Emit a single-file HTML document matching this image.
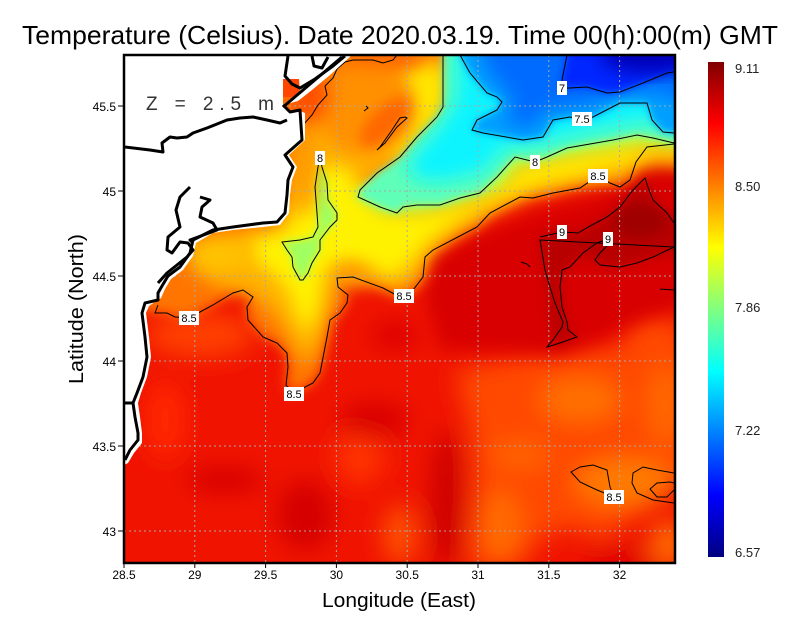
<!DOCTYPE html>
<html><head><meta charset="utf-8"><style>
html,body{margin:0;padding:0;background:#fff;}
svg{display:block;}
text{font-family:"Liberation Sans",sans-serif;}
</style></head><body>
<svg width="800" height="618" viewBox="0 0 800 618" xmlns="http://www.w3.org/2000/svg">
<defs>
<clipPath id="clip"><rect x="124" y="55" width="551" height="508"/></clipPath>
<filter id="b4" x="-30%" y="-30%" width="160%" height="160%"><feGaussianBlur stdDeviation="4"/></filter>
<filter id="b6" x="-30%" y="-30%" width="160%" height="160%"><feGaussianBlur stdDeviation="6"/></filter>
<filter id="b9" x="-30%" y="-30%" width="160%" height="160%"><feGaussianBlur stdDeviation="9"/></filter>
<filter id="b12" x="-30%" y="-30%" width="160%" height="160%"><feGaussianBlur stdDeviation="12"/></filter>
<linearGradient id="jet" x1="0" y1="1" x2="0" y2="0">
<stop offset="0" stop-color="#000080"/>
<stop offset="0.125" stop-color="#0000ff"/>
<stop offset="0.375" stop-color="#00ffff"/>
<stop offset="0.625" stop-color="#ffff00"/>
<stop offset="0.875" stop-color="#ff0000"/>
<stop offset="1" stop-color="#800000"/>
</linearGradient>
</defs>

<!-- Title -->
<text x="22" y="44" font-size="26" textLength="756" lengthAdjust="spacingAndGlyphs" fill="#000">Temperature (Celsius). Date 2020.03.19. Time 00(h):00(m) GMT</text>

<!-- ticks -->
<g stroke="#000" stroke-width="1">
<line x1="118" y1="106" x2="124" y2="106"/>
<line x1="118" y1="191" x2="124" y2="191"/>
<line x1="118" y1="276" x2="124" y2="276"/>
<line x1="118" y1="361" x2="124" y2="361"/>
<line x1="118" y1="446" x2="124" y2="446"/>
<line x1="118" y1="531" x2="124" y2="531"/>
<line x1="124" y1="563" x2="124" y2="568"/>
<line x1="194.8" y1="563" x2="194.8" y2="568"/>
<line x1="265.6" y1="563" x2="265.6" y2="568"/>
<line x1="336.4" y1="563" x2="336.4" y2="568"/>
<line x1="407.2" y1="563" x2="407.2" y2="568"/>
<line x1="478" y1="563" x2="478" y2="568"/>
<line x1="548.8" y1="563" x2="548.8" y2="568"/>
<line x1="619.6" y1="563" x2="619.6" y2="568"/>
</g>

<!-- tick labels -->
<text x="116" y="111" font-size="12" text-anchor="end">45.5</text>
<text x="116" y="196" font-size="12" text-anchor="end">45</text>
<text x="116" y="281" font-size="12" text-anchor="end">44.5</text>
<text x="116" y="366" font-size="12" text-anchor="end">44</text>
<text x="116" y="451" font-size="12" text-anchor="end">43.5</text>
<text x="116" y="536" font-size="12" text-anchor="end">43</text>
<text x="124" y="579" font-size="12" text-anchor="middle">28.5</text>
<text x="194.8" y="579" font-size="12" text-anchor="middle">29</text>
<text x="265.6" y="579" font-size="12" text-anchor="middle">29.5</text>
<text x="336.4" y="579" font-size="12" text-anchor="middle">30</text>
<text x="407.2" y="579" font-size="12" text-anchor="middle">30.5</text>
<text x="478" y="579" font-size="12" text-anchor="middle">31</text>
<text x="548.8" y="579" font-size="12" text-anchor="middle">31.5</text>
<text x="619.6" y="579" font-size="12" text-anchor="middle">32</text>

<!-- axis titles -->
<text x="399" y="607" font-size="20" text-anchor="middle" textLength="154" lengthAdjust="spacingAndGlyphs">Longitude (East)</text>
<text x="0" y="0" font-size="20" text-anchor="middle" textLength="150" lengthAdjust="spacingAndGlyphs" transform="translate(83,309) rotate(-90)">Latitude (North)</text>

<!-- colorbar -->
<rect x="708" y="62" width="16" height="495" fill="url(#jet)"/>
<text x="735" y="73" font-size="13" fill="#222">9.11</text>
<text x="735" y="191" font-size="13" fill="#222">8.50</text>
<text x="735" y="312" font-size="13" fill="#222">7.86</text>
<text x="735" y="435" font-size="13" fill="#222">7.22</text>
<text x="735" y="557" font-size="13" fill="#222">6.57</text>

<!-- Heatmap -->
<g clip-path="url(#clip)">
<rect x="100" y="40" width="620" height="540" fill="#f01400"/>
<g filter="url(#b12)">
<path d="M455,372 C520,352 640,342 700,345 L700,470 C660,500 620,530 600,540 C570,520 540,525 520,570 L470,570 C472,520 480,470 468,420 Z" fill="#ff4a00"/>
<ellipse cx="580" cy="400" rx="40" ry="22" fill="#ff7000"/>
<ellipse cx="625" cy="482" rx="50" ry="24" fill="#ff7a00"/>
<ellipse cx="500" cy="525" rx="22" ry="35" fill="#ff6a00"/>
<ellipse cx="665" cy="405" rx="18" ry="40" fill="#ff6800"/>
<ellipse cx="668" cy="545" rx="18" ry="25" fill="#ff6a00"/>
<ellipse cx="520" cy="455" rx="30" ry="14" fill="#ff6400"/>
<ellipse cx="400" cy="535" rx="16" ry="30" fill="#ff5200"/>
<ellipse cx="360" cy="455" rx="25" ry="30" fill="#ff3200"/>
<ellipse cx="200" cy="335" rx="55" ry="22" fill="#ff4000"/>
<ellipse cx="165" cy="420" rx="20" ry="40" fill="#ff2800"/>
<ellipse cx="447" cy="500" rx="16" ry="70" fill="#cc0000"/>
<ellipse cx="305" cy="515" rx="28" ry="35" fill="#d40000"/>
<ellipse cx="225" cy="480" rx="40" ry="14" fill="#d80000"/>
<ellipse cx="375" cy="420" rx="35" ry="18" fill="#d80000"/>
<ellipse cx="620" cy="560" rx="35" ry="12" fill="#dd0000"/>
<ellipse cx="395" cy="335" rx="25" ry="15" fill="#dd0000"/>
<ellipse cx="655" cy="335" rx="30" ry="18" fill="#ff4a00"/>
</g>
<g filter="url(#b9)">
<path d="M425,300 L430,260 L477,235 L540,210 L600,195 L640,170 L700,160 L700,300 L640,320 L600,340 L560,355 L520,352 L440,350 Z" fill="#d80000"/>
</g>
<g filter="url(#b6)">
<path d="M540,237 L562,232 L578,233 L592,225 L607,217 L620,207 L633,190 L645,178 L653,200 L667,213 L700,225 L700,247 L653,257 L620,267 L600,265 L583,253 L570,267 L562,270 L560,287 L565,320 L575,337 L555,347 L550,320 L545,270 Z" fill="#b80000"/>
<ellipse cx="640" cy="220" rx="28" ry="18" fill="#a00000"/>
</g>

<!-- north of 8.5 : orange -->
<g filter="url(#b6)">
<path d="M100,40 L700,40 L700,144 L674,144 L647,147 L636,160 L633,177 L620,185 L609,182 L588,182 L547,193 L520,197 L490,213 L477,227 L433,250 L425,257 L423,277 L413,290 L398,296 L383,288 L353,277 L337,278 L338,287 L348,295 L347,303 L340,313 L330,320 L327,337 L320,373 L313,383 L302,389 L294,394 L286,385 L288,367 L287,353 L277,343 L263,337 L248,320 L247,307 L253,297 L243,290 L233,293 L213,305 L200,312 L189,318 L175,317 L167,313 L155,313 L150,310 L100,310 Z" fill="#ff7400"/>
</g>
<!-- orange-yellow transition -->
<g filter="url(#b9)">
<path d="M190,245 L240,232 L280,228 L292,190 L300,140 L330,100 L360,80 L445,60 L445,110 L420,140 L390,165 L360,190 L380,210 L420,212 L470,200 L500,185 L520,165 L570,155 L620,145 L660,142 L700,150 L700,168 L660,162 L635,168 L612,180 L570,185 L530,195 L490,212 L455,232 L432,252 L420,278 L400,290 L375,282 L350,278 L333,290 L327,320 L318,350 L305,365 L292,345 L282,325 L265,305 L240,292 L215,285 L195,272 Z" fill="#ffb000"/>
</g>
<!-- yellow core -->
<g filter="url(#b9)">
<path d="M250,240 L285,232 L300,205 L310,170 L345,165 L360,190 L382,212 L420,214 L470,202 L500,188 L520,168 L570,157 L620,148 L660,146 L700,152 L700,160 L655,156 L620,165 L575,176 L535,184 L495,202 L460,220 L430,240 L410,262 L395,278 L370,268 L345,262 L325,275 L318,310 L308,335 L298,320 L290,295 L275,275 L255,262 Z" fill="#fff200"/>
<path d="M400,75 L445,62 L445,110 L425,135 L400,160 L385,150 L410,120 Z" fill="#ffe800"/>
</g>
<!-- greenish near 8 -->
<g filter="url(#b6)">
<path d="M352,195 L380,214 L420,214 L460,204 L500,190 L520,168 L570,158 L640,146 L700,150 L700,138 L640,128 L560,138 L510,150 L480,183 L440,195 L400,200 L370,185 Z" fill="#c8ff38"/>
</g>
<g filter="url(#b4)">
<path d="M318,167 L315,187 L317,213 L318,227 L313,237 L300,240 L282,242 L287,250 L292,257 L293,267 L300,280 L303,280 L308,273 L312,263 L320,250 L320,240 L330,227 L337,220 L337,213 L328,200 L327,183 L322,167 Z" fill="#a0ff60"/>
</g>
<!-- cyan -->
<g filter="url(#b4)">
<path d="M443,40 L443,107 L437,117 L417,137 L400,157 L377,173 L360,190 L358,197 L380,207 L397,213 L403,207 L417,205 L440,205 L460,198 L480,193 L497,177 L515,157 L527,160 L547,157 L567,148 L613,140 L637,135 L653,138 L674,143 L700,143 L700,40 Z" fill="#60ffb8"/>
</g>
<g filter="url(#b9)">
<path d="M456,40 L456,100 L440,125 L418,150 L405,170 L425,182 L455,180 L484,172 L505,148 L540,144 L590,132 L640,122 L700,126 L700,40 Z" fill="#10f4ff"/>
</g>
<!-- light blue 7.5 -->
<g filter="url(#b4)">
<path d="M460,40 L460,55 L470,73 L487,93 L497,97 L502,102 L497,110 L477,120 L472,130 L483,133 L523,140 L543,137 L553,120 L570,117 L593,117 L620,103 L647,103 L652,120 L663,132 L674,133 L700,133 L700,40 Z" fill="#00a0ff"/>
</g>
<g filter="url(#b9)">
<path d="M480,40 L487,70 L507,92 L515,108 L502,122 L530,128 L545,110 L590,104 L625,90 L660,92 L700,108 L700,40 Z" fill="#006cff"/>
</g>
<!-- blue 7 -->
<g filter="url(#b4)">
<path d="M567,40 L567,55 L562,80 L562,88 L587,87 L607,93 L620,92 L643,83 L667,73 L700,70 L700,40 Z" fill="#0028ff"/>
</g>
<g filter="url(#b9)">
<ellipse cx="650" cy="55" rx="50" ry="18" fill="#0000b8"/>
</g>
<!-- dome and coastal orange -->
<g filter="url(#b9)">
<ellipse cx="365" cy="108" rx="50" ry="46" fill="#ff9000"/>
<ellipse cx="310" cy="95" rx="20" ry="28" fill="#ff5000"/>
<ellipse cx="305" cy="170" rx="12" ry="45" fill="#ff9a00"/>
<ellipse cx="380" cy="58" rx="40" ry="9" fill="#ff6000"/>
<ellipse cx="350" cy="275" rx="20" ry="12" fill="#ff9a00"/>
<ellipse cx="220" cy="255" rx="30" ry="14" fill="#ffc400"/>
</g>
<g filter="url(#b6)">
<ellipse cx="385" cy="122" rx="32" ry="14" transform="rotate(-45 385 122)" fill="#ff6800"/>
</g>
<rect x="283" y="79" width="16" height="18" fill="#ff4500"/>

<!-- gridlines -->
<g stroke="#a8a8a8" stroke-width="1" stroke-dasharray="2,3" fill="none">
<line x1="194.8" y1="55" x2="194.8" y2="563"/>
<line x1="265.6" y1="55" x2="265.6" y2="563"/>
<line x1="336.4" y1="55" x2="336.4" y2="563"/>
<line x1="407.2" y1="55" x2="407.2" y2="563"/>
<line x1="478" y1="55" x2="478" y2="563"/>
<line x1="548.8" y1="55" x2="548.8" y2="563"/>
<line x1="619.6" y1="55" x2="619.6" y2="563"/>
<line x1="124" y1="106" x2="675" y2="106"/>
<line x1="124" y1="191" x2="675" y2="191"/>
<line x1="124" y1="276" x2="675" y2="276"/>
<line x1="124" y1="361" x2="675" y2="361"/>
<line x1="124" y1="446" x2="675" y2="446"/>
<line x1="124" y1="531" x2="675" y2="531"/>
</g>

<!-- contours -->
<g stroke="#000" stroke-width="1" fill="none">
<path d="M158,305 L155,313 L167,313 L175,317 L189,318 L200,312 L213,305 L233,293 L243,290 L253,297 L247,307 L248,320 L263,337 L277,343 L287,353 L288,367 L286,385 L294,394 L303,388 L313,383 L320,373 L327,337 L330,320 L340,313 L347,303 L348,295 L338,287 L337,278 L353,277 L383,288 L398,296 L404,296 L413,290 L423,277 L425,257 L433,250 L477,227 L490,213 L520,197 L533,198 L553,193 L580,188 L598,176 L610,183 L620,187 L630,180 L636,162 L647,147 L674,144"/>
<path d="M303,125 L312,115 L318,105 L327,95 L325,86 L333,78 L337,69 L345,62 L353,60 L373,60 L383,63 L393,60 L397,55"/>
<path d="M443,55 L443,107 L437,117 L417,137 L400,157 L377,173 L360,190 L358,197 L380,207 L397,213 L403,207 L417,205 L440,205 L460,198 L480,193 L497,177 L515,157 L527,160 L535,162 L547,157 L567,148 L613,140 L637,135 L653,138 L674,143"/>
<path d="M320,158 L318,167 L315,187 L317,213 L318,227 L313,237 L300,240 L282,242 L287,250 L292,257 L293,267 L300,280 L303,280 L308,273 L312,263 L320,250 L320,240 L330,227 L337,220 L337,213 L328,200 L327,183 L322,167 L320,158"/>
<path d="M460,55 L470,73 L487,93 L497,97 L502,102 L497,110 L477,120 L472,130 L483,133 L523,140 L543,137 L553,120 L570,117 L582,119 L593,117 L620,103 L647,103 L652,120 L663,132 L674,133"/>
<path d="M567,55 L562,80 L562,88 L570,88 L587,87 L607,93 L620,92 L643,83 L667,73 L674,72"/>
<path d="M540,237 L562,232 L578,233 L592,225 L607,217 L620,207 L633,190 L645,178 L648,187 L653,200 L667,213 L674,223 M674,247 L653,257 L637,263 L620,267 L600,265 L595,260 L600,253 L608,245 L608,239 L597,243 L583,253 L570,267 L562,270 L560,287 L562,307 L567,322 L568,330 L577,337 L560,343 L547,347 L553,340 L562,327 L563,322 L555,303 L550,287 L545,270 L540,240 Z"/>
<path d="M377,150 L385,143 L397,127 L407,118 L405,117 L400,118 L392,130 L380,147 Z"/>
<path d="M571,472 L580,467 L593,465 L607,470 L610,487 L614,497 L597,490 L580,482 Z"/>
<path d="M674,473 L657,470 L643,467 L633,473 L632,483 L637,493 L653,500 L674,503"/>
<path d="M674,483 L670,482 L657,483 L650,489 L657,497 L667,497 L674,490"/>
<path d="M660,289 L674,290"/>
<path d="M521,262 L527,264 L530,267"/>
<path d="M364,111 L368,108 L366,106"/>
</g>

<!-- land -->
<path d="M124,55 L345,55 L300,92 L299,79 L283,79 L283,105 L290,113 L300,111 L305,113 L305,140 L289,155 L297,167 L292,180 L290,195 L289,213 L280,225 L263,227 L233,230 L213,233 L196,243 L193,256 L183,270 L171,279 L165,289 L161,298 L149,306 L146,313 L149,337 L151,357 L147,377 L141,393 L138,403 L140,417 L142,433 L142,443 L134,453 L128,463 L124,465 Z" fill="#fff"/>
<path d="M283,105 L345,53 L352,55 L330,75 L312,90 L298,101 Z" fill="#fff"/>

<!-- coastline -->
<g stroke="#000" stroke-width="3" fill="none" stroke-linejoin="round">
<path d="M283,105 L290,112 L300,110 L302,140 L285,155 L293,167 L288,180 L287,195 L285,213 L277,222 L263,223 L233,227 L213,230 L193,240 L190,253 L180,267 L168,276 L162,286 L158,293 L158,300 L145,303 L142,313 L145,337 L147,357 L143,377 L137,393 L133,403 L135,417 L138,433 L138,440 L130,450 L125,460"/>
<path d="M283,107 L342,57"/>
<path d="M288,56 L285,76 L292,84 L300,88 L315,79 L333,66 L345,56"/>
<path d="M312,56 L314,66 L322,68 L328,57"/>
<path d="M125,147 L150,150 L163,152 L162,143 L170,137 L177,138 L187,137 L193,133 L207,128 L227,120 L240,118 L253,117 L267,120 L280,123 L287,120"/>
<path d="M190,187 L180,197 L176,210 L180,227 L168,237 L167,250 L172,253 L180,242 L188,243 L193,250 L187,257 L167,273 L158,283"/>
<path d="M200,197 L210,200 L202,207 L200,217 L213,223 L217,230 L190,240 L193,243"/>
<path d="M125,403 L134,403"/>
</g>
</g>

<!-- contour labels -->
<rect x="315" y="151" width="10" height="14" fill="#fff"/><text x="320" y="162" font-size="11" text-anchor="middle">8</text>
<rect x="557" y="81" width="10" height="14" fill="#fff"/><text x="562" y="92" font-size="11" text-anchor="middle">7</text>
<rect x="572" y="112" width="20" height="14" fill="#fff"/><text x="582" y="123" font-size="11" text-anchor="middle">7.5</text>
<rect x="530" y="155" width="10" height="14" fill="#fff"/><text x="535" y="166" font-size="11" text-anchor="middle">8</text>
<rect x="588" y="169" width="20" height="14" fill="#fff"/><text x="598" y="180" font-size="11" text-anchor="middle">8.5</text>
<rect x="557" y="225" width="10" height="14" fill="#fff"/><text x="562" y="236" font-size="11" text-anchor="middle">9</text>
<rect x="603" y="232" width="10" height="14" fill="#fff"/><text x="608" y="243" font-size="11" text-anchor="middle">9</text>
<rect x="394" y="289" width="20" height="14" fill="#fff"/><text x="404" y="300" font-size="11" text-anchor="middle">8.5</text>
<rect x="179" y="311" width="20" height="14" fill="#fff"/><text x="189" y="322" font-size="11" text-anchor="middle">8.5</text>
<rect x="284" y="387" width="20" height="14" fill="#fff"/><text x="294" y="398" font-size="11" text-anchor="middle">8.5</text>
<rect x="604" y="490" width="20" height="14" fill="#fff"/><text x="614" y="501" font-size="11" text-anchor="middle">8.5</text>

<!-- Z label -->
<text x="146" y="110" font-size="19" fill="#333" textLength="128" lengthAdjust="spacing">Z = 2.5 m</text>

<!-- frame -->
<rect x="124" y="55" width="551" height="508" fill="none" stroke="#000" stroke-width="2.5"/>
</svg>
</body></html>
